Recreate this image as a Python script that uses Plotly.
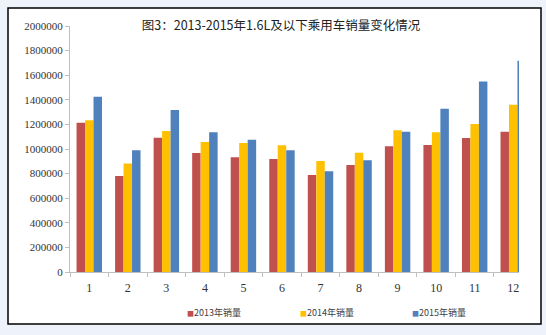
import plotly.graph_objects as go

months = ["1", "2", "3", "4", "5", "6", "7", "8", "9", "10", "11", "12"]
sales_2013 = [1214000, 780000, 1092000, 967000, 932000, 919000, 789000, 870000, 1022000, 1033000, 1090000, 1141000]
sales_2014 = [1233000, 883000, 1146000, 1057000, 1049000, 1030000, 902000, 970000, 1152000, 1136000, 1203000, 1360000]
sales_2015 = [1425000, 989000, 1317000, 1136000, 1076000, 989000, 819000, 908000, 1141000, 1328000, 1548000, 1718000]
series_names = ["2013年销量", "2014年销量", "2015年销量"]
colors = ["#C0504D", "#FFC000", "#4F81BD"]
y_ticks = [0, 200000, 400000, 600000, 800000, 1000000, 1200000, 1400000, 1600000, 1800000, 2000000]

W, H = 546, 335
L, R, T, B = 70, 519, 26, 272

fig = go.Figure()
for name, vals, col in zip(series_names, [sales_2013, sales_2014, sales_2015], colors):
    fig.add_trace(go.Bar(x=months, y=vals, name=name, marker=dict(color=col, line=dict(width=0)),
                         showlegend=False))

pw, ph = R - L, B - T
def px(x):
    return (x - L) / pw
def py(y):
    return (B - y) / ph

# white framed panel
fig.add_shape(type="rect", xref="paper", yref="paper", x0=px(8), x1=px(541), y0=py(324), y1=py(8),
              fillcolor="white", line=dict(color="black", width=1.5), layer="below")

# legend as annotations
leg_x = [185, 298, 410]
for xx, name, col in zip(leg_x, series_names, colors):
    fig.add_annotation(xref="paper", yref="paper", x=px(xx), y=py(312), xanchor="left", yanchor="middle",
                       text=f'<span style="color:{col};font-size:7px">■</span>{name}', showarrow=False,
                       font=dict(family="Noto Sans CJK SC", size=9, color="#404040"))

fig.update_layout(
    width=W, height=H,
    margin=dict(l=L, r=W - R, t=T, b=H - B, pad=0),
    paper_bgcolor="#EEF3FB",
    plot_bgcolor="rgba(0,0,0,0)",
    barmode="group",
    bargap=0.34,
    bargroupgap=0,
    title=dict(text="图3：2013-2015年1.6L及以下乘用车销量变化情况", x=281 / W, y=1 - 26 / H,
               xanchor="center", yanchor="middle", xref="container", yref="container",
               font=dict(family="Noto Sans CJK SC", size=12.5, color="#222222")),
    xaxis=dict(type="category", range=[-0.5, 11.15], showline=True, linecolor="#BFBFBF", linewidth=1,
               ticks="outside", tickson="boundaries", ticklen=4, tickcolor="#BFBFBF",
               ticklabelstandoff=5,
               tickfont=dict(family="Liberation Serif", size=12, color="#333333"), showgrid=False),
    yaxis=dict(range=[0, 2000000], tickvals=y_ticks, ticktext=[str(v) for v in y_ticks],
               showline=True, linecolor="#BFBFBF", linewidth=1, ticks="outside", ticklen=4,
               tickcolor="#BFBFBF", showgrid=False, zeroline=False,
               tickfont=dict(family="Liberation Serif", size=11, color="#333333")),
)

fig.write_html("out.html")
